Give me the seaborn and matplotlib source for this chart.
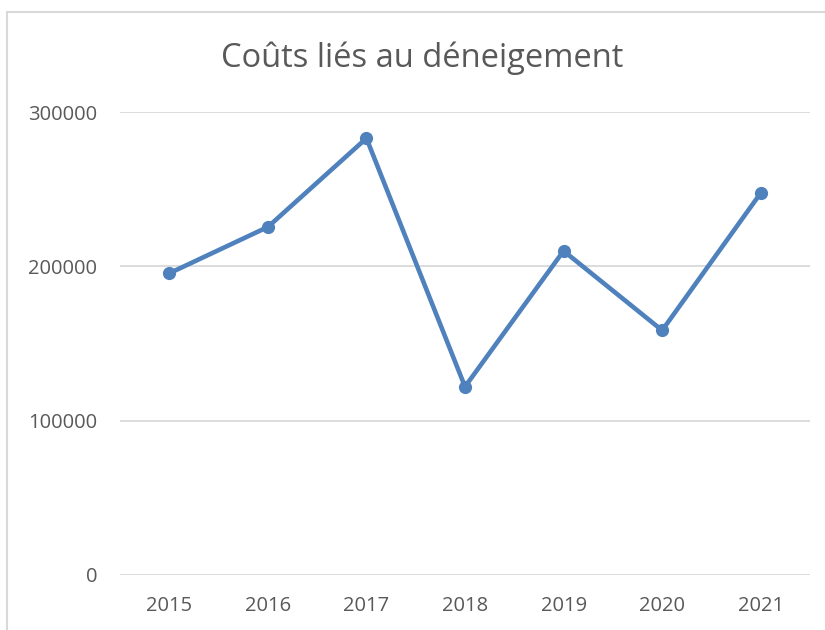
import matplotlib
matplotlib.use("Agg")
import matplotlib.pyplot as plt
import seaborn as sns
import pandas as pd
from matplotlib.patches import Rectangle

annees = ["2015", "2016", "2017", "2018", "2019", "2020", "2021"]
couts = [195500, 225500, 283000, 122000, 210000, 158500, 247500]

df = pd.DataFrame({"annee": annees, "cout": couts})

sns.set_style("white")
plt.rcParams["font.family"] = ["Open Sans", "DejaVu Sans"]

fig = plt.figure(figsize=(8.25, 6.3), dpi=100)
ax = fig.add_axes([120 / 825, 1 - 575 / 630, 690 / 825, (575 - 112) / 630])

# cadre du graphique
fig.patches.append(Rectangle((7 / 825, -0.1), 1.0, 1 - 12 / 630 + 0.1,
                             transform=fig.transFigure, fill=False,
                             edgecolor="#d9d9d9", linewidth=1.5))

sns.lineplot(data=df, x="annee", y="cout", ax=ax, color="#4f81bd",
             linewidth=3.3, marker="o", markersize=9.5, markeredgewidth=0,
             sort=False)

ax.set_xlim(-0.5, 6.5)
ax.set_ylim(0, 300000)
ax.set_yticks([0, 100000, 200000, 300000])
ax.set_yticklabels(["0", "100000", "200000", "300000"])
ax.yaxis.grid(True, color="#d9d9d9", linewidth=1.3)
ax.set_axisbelow(True)
for s in ax.spines.values():
    s.set_visible(False)
ax.tick_params(axis="both", length=0, labelsize=14.5, colors="#595959")
ax.tick_params(axis="y", pad=16.5)
ax.tick_params(axis="x", pad=15)
ax.set_xlabel("")
ax.set_ylabel("")

fig.text(422 / 825, 1 - 58 / 630, "Coûts liés au déneigement", ha="center",
         va="center", fontsize=23.5, color="#595959")

fig.savefig("out.png", dpi=100)
